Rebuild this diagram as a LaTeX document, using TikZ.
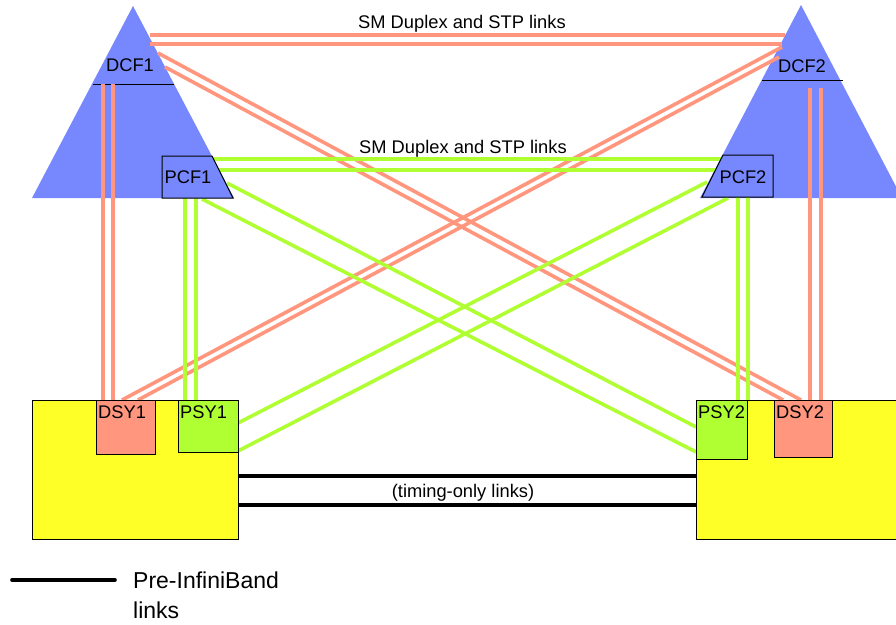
\documentclass[tikz,border=0pt]{standalone}
\usepackage{fontspec}
\setmainfont{Liberation Sans}
\definecolor{cfblue}{RGB}{119,136,255}
\definecolor{dlinkc}{RGB}{255,150,125}
\definecolor{plinkc}{RGB}{176,255,51}
\definecolor{cecyel}{RGB}{255,255,40}
\begin{document}
\begin{tikzpicture}[x=1pt,y=-1pt,
  dlink/.style={draw=dlinkc,line width=3.6pt},
  plink/.style={draw=plinkc,line width=3.6pt},
  tlink/.style={draw=black,line width=3.6pt},
  lbl/.style={font=\fontsize{18.3}{20}\selectfont,inner sep=0pt,anchor=base},
  lbll/.style={lbl,anchor=base west},
  cfbox/.style={fill=cfblue,draw=black,line width=1pt},
  sybox/.style={draw=black,line width=1pt,inner sep=0pt,anchor=north west}]
\useasboundingbox (0,0) rectangle (896,624);

% coupling facility triangles
\fill[cfblue] (133,6) -- (234,198) -- (32,198) -- cycle;
\fill[cfblue] (801,5) -- (902,198) -- (700,198) -- cycle;
\draw[line width=1pt] (93,84) -- (174,84);
\draw[line width=1pt] (762,80) -- (843,80);
\node[lbl] (dcf1) at (130,71) {DCF1};
\node[lbl] (dcf2) at (802,72) {DCF2};

% CEC boxes
\node[sybox,fill=cecyel,minimum width=206pt,minimum height=139pt] (cec1) at (32,400) {};
\node[sybox,fill=cecyel,minimum width=210pt,minimum height=139pt] (cec2) at (696,400) {};

% link end points
\coordinate (ta1) at (150,35);  \coordinate (tb1) at (785,35);
\coordinate (ta2) at (150,44);  \coordinate (tb2) at (782,44);
\coordinate (xa1) at (158,53);  \coordinate (xb1) at (801,400);
\coordinate (xa2) at (165,67);  \coordinate (xb2) at (783,400);
\coordinate (ya1) at (782,47);  \coordinate (yb1) at (122,400);
\coordinate (ya2) at (779,57);  \coordinate (yb2) at (138,400);
\coordinate (va1) at (103,84);  \coordinate (vb1) at (103,400);
\coordinate (va2) at (113,84);  \coordinate (vb2) at (113,400);
\coordinate (wa1) at (810,88);  \coordinate (wb1) at (810,400);
\coordinate (wa2) at (821,88);  \coordinate (wb2) at (821,400);
\coordinate (ga1) at (213,159); \coordinate (gb1) at (722,159);
\coordinate (ga2) at (218,170); \coordinate (gb2) at (717,170);
\coordinate (pa1) at (185,198); \coordinate (pb1) at (185,400);
\coordinate (pa2) at (196,198); \coordinate (pb2) at (196,400);
\coordinate (qa1) at (738,197); \coordinate (qb1) at (738,400);
\coordinate (qa2) at (748,197); \coordinate (qb2) at (748,400);
\coordinate (ra1) at (227,183); \coordinate (rb1) at (696,427);
\coordinate (ra2) at (202,199); \coordinate (rb2) at (696,452);
\coordinate (sa1) at (707,182); \coordinate (sb1) at (238,423);
\coordinate (sa2) at (728,198); \coordinate (sb2) at (238,451);
\coordinate (ka1) at (238,476); \coordinate (kb1) at (696,476);
\coordinate (ka2) at (238,505); \coordinate (kb2) at (696,505);

% SM duplex / STP links between the DCFs and the DSYs
\draw[dlink] (ta1) -- (tb1);  \draw[dlink] (ta2) -- (tb2);
\draw[dlink] (xa1) -- (xb1);  \draw[dlink] (xa2) -- (xb2);
\draw[dlink] (ya1) -- (yb1);  \draw[dlink] (ya2) -- (yb2);
\draw[dlink] (va1) -- (vb1);  \draw[dlink] (va2) -- (vb2);
\draw[dlink] (wa1) -- (wb1);  \draw[dlink] (wa2) -- (wb2);

% SM duplex / STP links between the PCFs and the PSYs
\draw[plink] (ga1) -- (gb1);  \draw[plink] (ga2) -- (gb2);
\draw[plink] (pa1) -- (pb1);  \draw[plink] (pa2) -- (pb2);
\draw[plink] (qa1) -- (qb1);  \draw[plink] (qa2) -- (qb2);
\draw[plink] (ra1) -- (rb1);  \draw[plink] (ra2) -- (rb2);
\draw[plink] (sa1) -- (sb1);  \draw[plink] (sa2) -- (sb2);

% timing-only links
\draw[tlink] (ka1) -- (kb1);
\draw[tlink] (ka2) -- (kb2);

\node[lbll] (smtop) at (358,28) {SM Duplex and STP links};
\node[lbll] (smmid) at (359,153) {SM Duplex and STP links};
\node[lbl] (tim) at (463,497) {(timing-only links)};

% PCF trapezoids
\draw[cfbox] (162,156) -- (212,156) -- (233,198) -- (162,198) -- cycle;
\draw[cfbox] (723,155) -- (773,155) -- (773,197) -- (702,197) -- cycle;
\node[lbl] (pcf1) at (188,183) {PCF1};
\node[lbl] (pcf2) at (743,183) {PCF2};

% system partitions
\node[sybox,fill=dlinkc,minimum width=59pt,minimum height=54pt] (dsy1) at (96,400) {};
\node[sybox,fill=plinkc,minimum width=60pt,minimum height=52pt] (psy1) at (178,400) {};
\node[sybox,fill=plinkc,minimum width=51pt,minimum height=59pt] (psy2) at (696,400) {};
\node[sybox,fill=dlinkc,minimum width=58pt,minimum height=57pt] (dsy2) at (774,400) {};
\node[lbll] (dsy1l) at (98,418) {DSY1};
\node[lbll] (psy1l) at (180,418) {PSY1};
\node[lbll] (psy2l) at (698,418) {PSY2};
\node[lbll] (dsy2l) at (776,418) {DSY2};

% legend
\coordinate (lga) at (12,580);
\coordinate (lgb) at (115,580);
\draw[tlink,line cap=round] (lga) -- (lgb);
\node[anchor=base west,inner sep=0pt,font=\fontsize{23}{30}\selectfont,align=left] (lgt) at (133,618) {Pre-InfiniBand\\links};
\end{tikzpicture}
\end{document}
